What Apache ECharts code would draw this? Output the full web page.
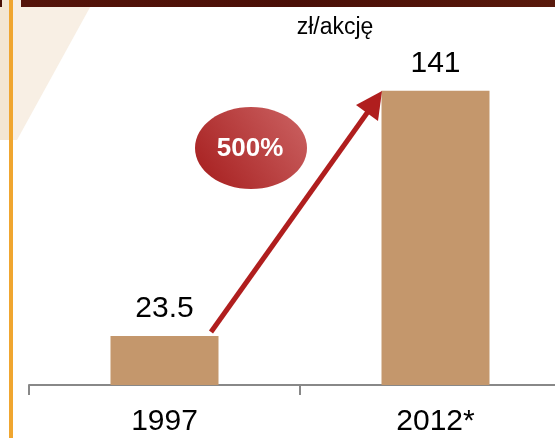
<!DOCTYPE html>
<html>
<head>
<meta charset="utf-8">
<script src="https://cdn.jsdelivr.net/npm/echarts@6/dist/echarts.min.js"></script>
<style>
html,body{margin:0;padding:0;background:#fff;overflow:hidden;width:555px;height:438px;}
#c{width:571px;height:438px;}
</style>
</head>
<body>
<div id="c"></div>
<script>
var categories = ['1997', '2012*'];
var values = [23.5, 141];
var valueLabels = ['23.5', '141'];
var unitLabel = 'zł/akcję';
var growthLabel = '500%';

var FONT = '"Liberation Sans", Arial, sans-serif';
var chart = echarts.init(document.getElementById('c'), null, {renderer: 'canvas'});

chart.setOption({
  animation: false,
  backgroundColor: '#ffffff',
  grid: {left: 29, right: 0, top: 51, height: 334},
  xAxis: {
    type: 'category',
    data: categories,
    axisLine: {lineStyle: {color: '#888888', width: 2}},
    axisTick: {show: true, length: 10, lineStyle: {color: '#888888', width: 2}},
    axisLabel: {color: '#000', fontSize: 30, fontFamily: FONT, margin: 22}
  },
  yAxis: {
    type: 'value', min: 0, max: 160, show: false,
    splitLine: {show: false}
  },
  series: [{
    type: 'bar',
    data: values,
    barWidth: 108,
    itemStyle: {color: '#C4976C'},
    label: {
      show: true, position: 'top', distance: 12,
      color: '#000', fontSize: 30, fontFamily: FONT,
      formatter: function (p) { return valueLabels[p.dataIndex]; }
    },
    z: 2
  }],
  graphic: [
    // left beige decoration
    {type: 'polygon', z: -10, silent: true,
     shape: {points: [[0, 0], [94, 0], [17, 140], [0, 140]]},
     style: {fill: '#F8EFE4'}},
    {type: 'rect', z: -9, silent: true,
     shape: {x: 0, y: 0, width: 9, height: 140},
     style: {fill: '#F3E6D3'}},
    // top brown band
    {type: 'rect', z: 10, silent: true,
     shape: {x: 21, y: 0, width: 550, height: 7},
     style: {fill: new echarts.graphic.LinearGradient(0, 0, 1, 0, [
       {offset: 0, color: '#55140A'}, {offset: 0.5, color: '#4A0F07'}, {offset: 1, color: '#5A1A0C'}])}},
    {type: 'rect', z: 10, silent: true,
     shape: {x: 0, y: 0, width: 2, height: 7},
     style: {fill: '#4A0F07'}},
    // orange vertical line
    {type: 'rect', z: 10, silent: true,
     shape: {x: 9, y: 0, width: 4, height: 438},
     style: {fill: '#F0A630'}},
    // unit label
    {type: 'text', z: 10, silent: true,
     style: {x: 335, y: 28, text: unitLabel, font: '23px ' + FONT, fill: '#000',
             textAlign: 'center', textVerticalAlign: 'middle'}},
    // arrow line
    {type: 'line', z: 5, silent: true,
     shape: {x1: 211, y1: 332, x2: 372, y2: 106},
     style: {stroke: '#B01E1E', lineWidth: 5}},
    // arrow head
    {type: 'polygon', z: 5, silent: true,
     shape: {points: [[382, 91], [356, 105], [378, 121]]},
     style: {fill: '#B01E1E'}},
    // ellipse
    {type: 'ellipse', z: 6, silent: true,
     shape: {cx: 251, cy: 148, rx: 56, ry: 41},
     style: {fill: new echarts.graphic.LinearGradient(0, 1, 1, 0, [
       {offset: 0, color: '#A51C1C'}, {offset: 1, color: '#CC6464'}])}},
    {type: 'text', z: 7, silent: true,
     style: {x: 250, y: 149, text: growthLabel, font: 'bold 26px ' + FONT, fill: '#fff',
             textAlign: 'center', textVerticalAlign: 'middle'}}
  ]
});
</script>
</body>
</html>
